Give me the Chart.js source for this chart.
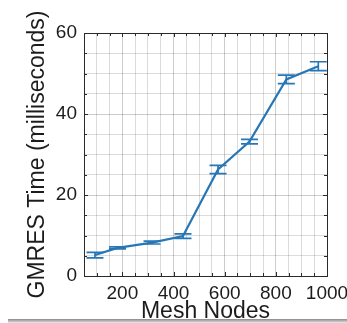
<!DOCTYPE html>
<html>
<head>
<meta charset="utf-8">
<script src="https://cdn.jsdelivr.net/npm/chart.js@4.4.1/dist/chart.umd.min.js"></script>
<style>
  html, body { margin: 0; padding: 0; background: #fff; }
  #wrap { position: relative; width: 347px; height: 323px; overflow: hidden; }
  #shade { position: absolute; left: 8px; top: 319px; width: 339px; height: 4px;
           background: linear-gradient(to bottom, #8a8a8a, #c8c8c8 70%, #f4f4f4); }
</style>
</head>
<body>
<div id="wrap">
  <canvas id="gmresChart" width="347" height="323"></canvas>
  <div id="shade"></div>
</div>
<script>
// data
const meshNodes = [93, 181, 316, 437, 574, 697, 841, 966];
const gmresTime = [5.2, 6.95, 8.25, 9.85, 26.3, 33.2, 48.55, 51.8];
const errLow    = [4.5, 6.7, 7.9, 9.3, 25.3, 32.6, 47.5, 50.7];
const errHigh   = [5.85, 7.2, 8.6, 10.4, 27.3, 33.75, 49.6, 52.9];
const xLabels = [200, 400, 600, 800, 1000];
const yLabels = [0, 20, 40, 60];

const LINE_COLOR = '#2777b6';
const TEXT_COLOR = '#1c1c1c';
const FONT = 'Liberation Sans, Arial, sans-serif';

// error bars drawn through the chart scales
const errorBars = {
    id: 'errorBars',
    afterDatasetsDraw(chart) {
        const ctx = chart.ctx, x = chart.scales.x, y = chart.scales.y;
        ctx.save();
        ctx.strokeStyle = LINE_COLOR;
        ctx.lineWidth = 1.7;
        meshNodes.forEach((n, i) => {
            const px = x.getPixelForValue(n);
            const lo = y.getPixelForValue(errLow[i]);
            const hi = y.getPixelForValue(errHigh[i]);
            ctx.beginPath();
            ctx.moveTo(px, lo); ctx.lineTo(px, hi);
            ctx.moveTo(px - 8.5, lo); ctx.lineTo(px + 8.5, lo);
            ctx.moveTo(px - 8.5, hi); ctx.lineTo(px + 8.5, hi);
            ctx.stroke();
        });
        ctx.restore();
    }
};

// axes box with inward tick marks
const axesBox = {
    id: 'axesBox',
    afterDraw(chart) {
        const ctx = chart.ctx, a = chart.chartArea;
        const x = chart.scales.x, y = chart.scales.y;
        ctx.save();
        ctx.strokeStyle = '#2a2a2a';
        ctx.lineWidth = 1;
        ctx.beginPath();
        x.ticks.forEach(t => {
            const px = Math.round(x.getPixelForValue(t.value)) + 0.5;
            const len = t.value % 200 === 0 ? 4 : 3;
            ctx.moveTo(px, a.bottom); ctx.lineTo(px, a.bottom - len);
            ctx.moveTo(px, a.top); ctx.lineTo(px, a.top + len);
        });
        y.ticks.forEach(t => {
            const py = Math.round(y.getPixelForValue(t.value)) + 0.5;
            const len = t.value % 20 === 0 ? 4 : 3;
            ctx.moveTo(a.left, py); ctx.lineTo(a.left + len, py);
            ctx.moveTo(a.right, py); ctx.lineTo(a.right - len, py);
        });
        ctx.stroke();
        ctx.strokeRect(Math.round(a.left) + 0.5, Math.round(a.top) + 0.5,
                       Math.round(a.right - a.left), Math.round(a.bottom - a.top));
        ctx.restore();
    }
};

const ctx = document.getElementById('gmresChart').getContext('2d');
new Chart(ctx, {
    type: 'line',
    data: {
        datasets: [{
            data: meshNodes.map((n, i) => ({x: n, y: gmresTime[i]})),
            borderColor: LINE_COLOR,
            borderWidth: 2.2,
            pointRadius: 0,
            fill: false,
            tension: 0
        }]
    },
    options: {
        responsive: false,
        animation: false,
        devicePixelRatio: 1,
        layout: { padding: { top: 33, right: 20, left: 0, bottom: 0 } },
        plugins: { legend: { display: false }, tooltip: { enabled: false } },
        scales: {
            x: {
                type: 'linear',
                min: 50, max: 1000,
                grid: {
                    drawTicks: false,
                    color: c => c.tick && c.tick.value % 200 === 0 ? 'rgba(0,0,0,0.2)' : 'rgba(0,0,0,0.14)'
                },
                border: { display: false },
                ticks: {
                    stepSize: 50,
                    autoSkip: false,
                    maxRotation: 0,
                    padding: 6,
                    color: TEXT_COLOR,
                    font: { family: FONT, size: 19 },
                    callback: v => xLabels.includes(v) ? String(v) : ''
                },
                title: {
                    display: true,
                    text: 'Mesh Nodes',
                    color: TEXT_COLOR,
                    font: { family: FONT, size: 23, lineHeight: 1.0 },
                    padding: { top: 0, bottom: 0 }
                },
                afterFit: s => { s.height = 47; s.paddingLeft = 0; s.paddingRight = 0; }
            },
            y: {
                min: 0, max: 60,
                grid: {
                    drawTicks: false,
                    color: c => c.tick && c.tick.value % 20 === 0 ? 'rgba(0,0,0,0.2)' : 'rgba(0,0,0,0.14)'
                },
                border: { display: false },
                ticks: {
                    stepSize: 5,
                    autoSkip: false,
                    padding: 7,
                    color: TEXT_COLOR,
                    font: { family: FONT, size: 19 },
                    callback: v => yLabels.includes(v) ? String(v) : ''
                },
                title: {
                    display: true,
                    text: 'GMRES Time (milliseconds)',
                    color: TEXT_COLOR,
                    font: { family: FONT, size: 23, lineHeight: 1.0 },
                    padding: { top: 26, bottom: 0 }
                },
                afterFit: s => { s.width = 84; s.paddingTop = 0; s.paddingBottom = 0; }
            }
        }
    },
    plugins: [errorBars, axesBox]
});
</script>
</body>
</html>
